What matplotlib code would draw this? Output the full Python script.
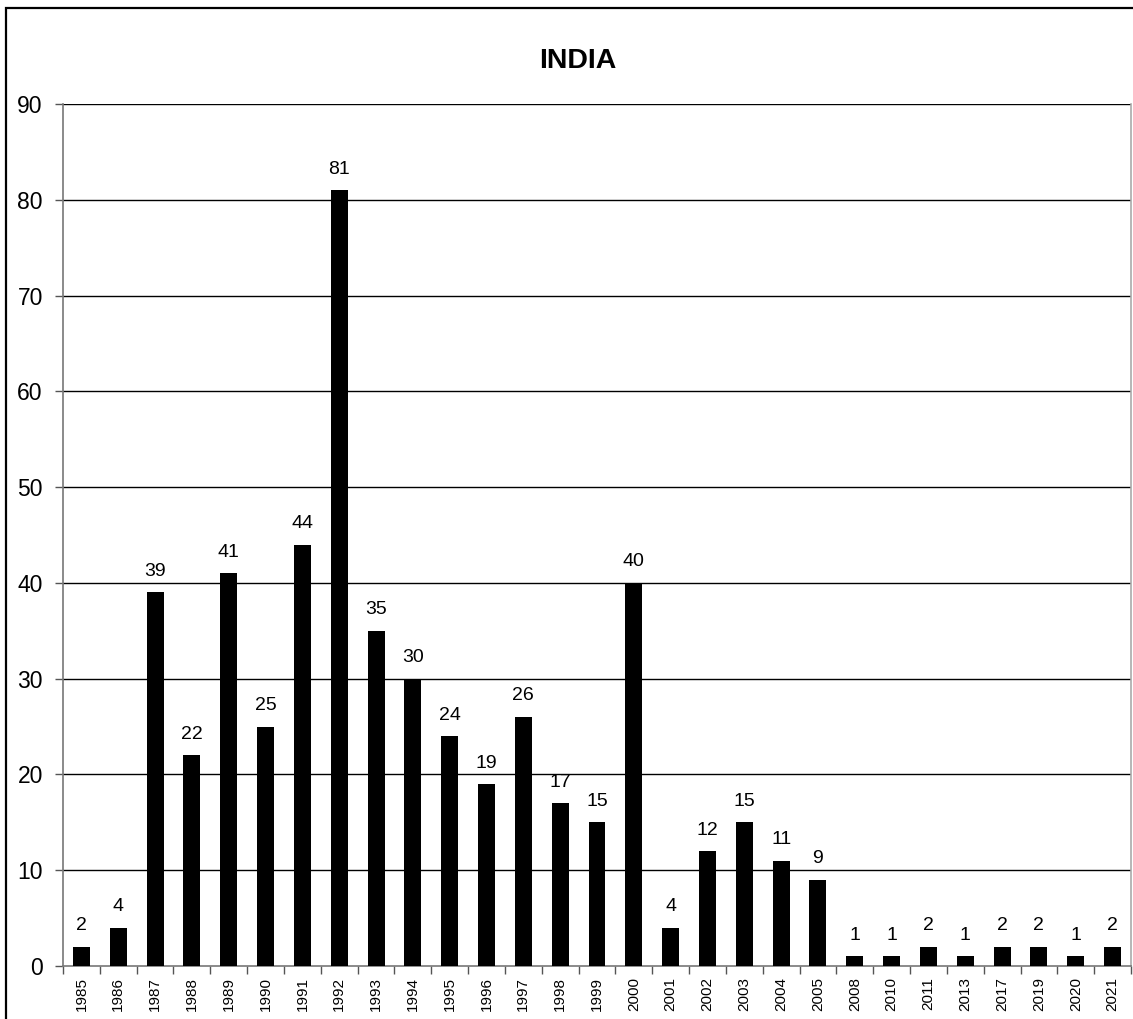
import matplotlib
matplotlib.use("Agg")
import matplotlib.pyplot as plt
from matplotlib.patches import Rectangle
from matplotlib.ticker import FixedLocator

plt.rcParams['font.family'] = ['Liberation Sans', 'DejaVu Sans']

years = ["1985", "1986", "1987", "1988", "1989", "1990", "1991", "1992", "1993",
         "1994", "1995", "1996", "1997", "1998", "1999", "2000", "2001", "2002",
         "2003", "2004", "2005", "2008", "2010", "2011", "2013", "2017", "2019",
         "2020", "2021"]
values = [2, 4, 39, 22, 41, 25, 44, 81, 35, 30, 24, 19, 26, 17, 15, 40, 4, 12,
          15, 11, 9, 1, 1, 2, 1, 2, 2, 1, 2]
title = "INDIA"

W, H = 1133, 1019
fig = plt.figure(figsize=(W / 100, H / 100), dpi=100)
fig.patch.set_facecolor("white")

# outer frame (chart area border, cropped on right/bottom)
fig.patches.append(Rectangle((6 / W, -0.1), 1.2, 1 - 8 / H + 0.1,
                             transform=fig.transFigure, fill=False,
                             edgecolor="black", linewidth=1.6, zorder=0))

ax = fig.add_axes([63 / W, 1 - 966 / H, (1131 - 63) / W, (966 - 104) / H])
x = list(range(len(years)))
ax.bar(x, values, width=0.46, color="black", zorder=3)
ax.set_xlim(-0.5, len(years) - 0.5)
ax.set_ylim(0, 90)
ax.set_yticks(range(0, 91, 10))
ax.set_yticklabels([str(v) for v in range(0, 91, 10)], fontsize=16.5)
ax.set_xticks(x)
ax.set_xticklabels(years, rotation=90, fontsize=11)
ax.tick_params(axis="x", which="major", length=0, pad=8)
ax.xaxis.set_minor_locator(FixedLocator([i - 0.5 for i in range(len(years) + 1)]))
ax.tick_params(axis="x", which="minor", length=6, width=1, color="#555555", direction="out")
ax.tick_params(axis="y", length=6, width=1, color="#555555", pad=8.5)

for v in range(10, 91, 10):
    ax.axhline(v, color="black", linewidth=1, zorder=1)

for s in ["left", "bottom", "right"]:
    ax.spines[s].set_color("#777777")
    ax.spines[s].set_linewidth(1.2)
ax.spines["top"].set_visible(False)
ax.spines["right"].set_color("#aaaaaa")

for xi, v in zip(x, values):
    ax.annotate(str(v), (xi, v), xytext=(0, 9), textcoords="offset points",
                ha="center", va="bottom", fontsize=14)

fig.text(578 / W, 1 - 61 / H, title, ha="center", va="center",
         fontsize=20.5, fontweight="bold")

fig.savefig("out.png", dpi=100)
